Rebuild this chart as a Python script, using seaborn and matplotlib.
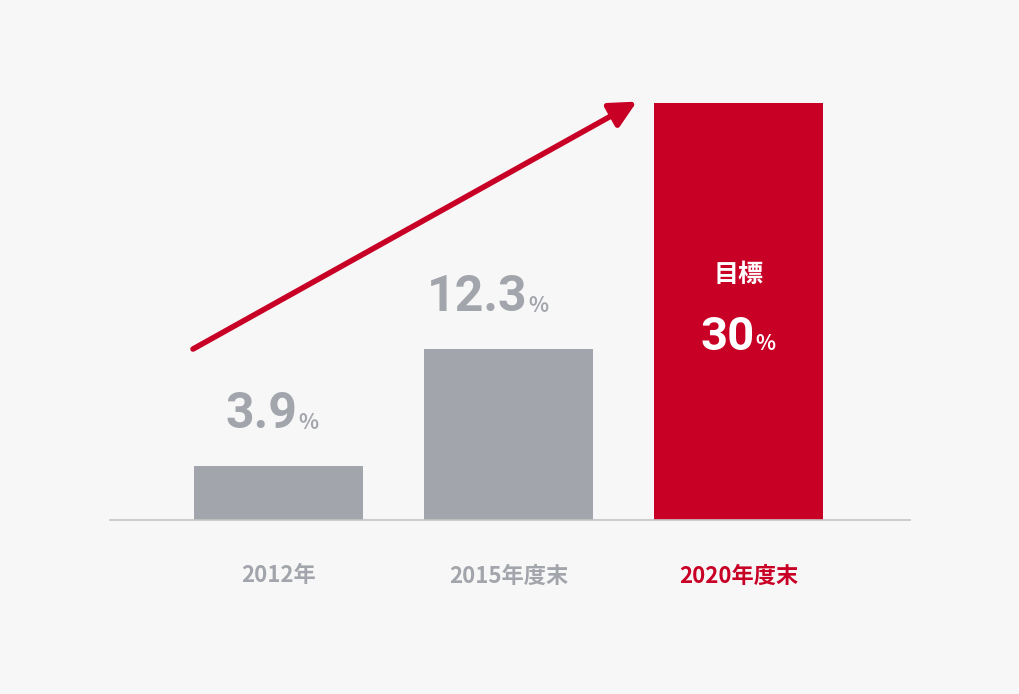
import matplotlib
matplotlib.use("Agg")
import matplotlib.pyplot as plt
import seaborn as sns
import pandas as pd

# data
categories = ["2012年", "2015年度末", "2020年度末"]
values = [3.9, 12.3, 30]
value_labels = ["3.9", "12.3", "30"]

gray = "#a3a5ac"
red = "#c80025"
bg = "#f7f7f7"
colors = [gray, gray, red]

plt.rcParams["font.family"] = ["Noto Sans CJK JP"]

df = pd.DataFrame({"cat": categories, "val": values})

fig = plt.figure(figsize=(10.2, 6.94), dpi=100, facecolor=bg)
ax = fig.add_axes([110 / 1020, 174 / 694, 800 / 1020, 480 / 694])
ax.set_facecolor(bg)

sns.barplot(data=df, x="cat", y="val", hue="cat", palette=colors,
            width=0.735, legend=False, ax=ax, saturation=1)

ax.set_xlim(-0.733, 2.746)
ax.set_ylim(0, 30 * 480 / 417)
for s in ["top", "right", "left"]:
    ax.spines[s].set_visible(False)
ax.spines["bottom"].set_color("#c4c4c4")
ax.spines["bottom"].set_linewidth(1.2)
ax.set_yticks([])
ax.set_xlabel("")
ax.set_ylabel("")
ax.tick_params(axis="x", length=0, pad=32)
ax.set_xticks(range(len(categories)))
ax.set_xticklabels(categories, fontsize=16, fontweight="bold")
for lbl, c in zip(ax.get_xticklabels(), colors):
    lbl.set_color(c)

# value labels above gray bars
for i in range(2):
    y = values[i] + 3.7
    ax.annotate(value_labels[i], (i, y), xytext=(14, 0), textcoords="offset points",
                ha="right", va="center", fontsize=36, fontweight="bold",
                color=gray, fontfamily="Roboto")
    ax.annotate("%", (i, y), xytext=(14, -6), textcoords="offset points",
                ha="left", va="center", fontsize=15, fontweight="bold", color=gray)

# labels inside red bar
ax.text(2, 17.6, "目標", ha="center", va="center", fontsize=18,
        fontweight="bold", color="white")
ax.annotate(value_labels[2], (2, 13.2), xytext=(12, 0), textcoords="offset points",
            ha="right", va="center", fontsize=34, fontweight="bold",
            color="white", fontfamily="Roboto")
ax.annotate("%", (2, 13.2), xytext=(12, -5), textcoords="offset points",
            ha="left", va="center", fontsize=15, fontweight="bold", color="white")

# trend arrow
ax.annotate("", xy=(1.558, 30.1), xytext=(-0.372, 12.3),
            arrowprops=dict(arrowstyle="-|>,head_length=1.6,head_width=0.8",
                            color=red, lw=4, shrinkA=0, shrinkB=0))

fig.savefig("out.png", dpi=100, facecolor=bg)
